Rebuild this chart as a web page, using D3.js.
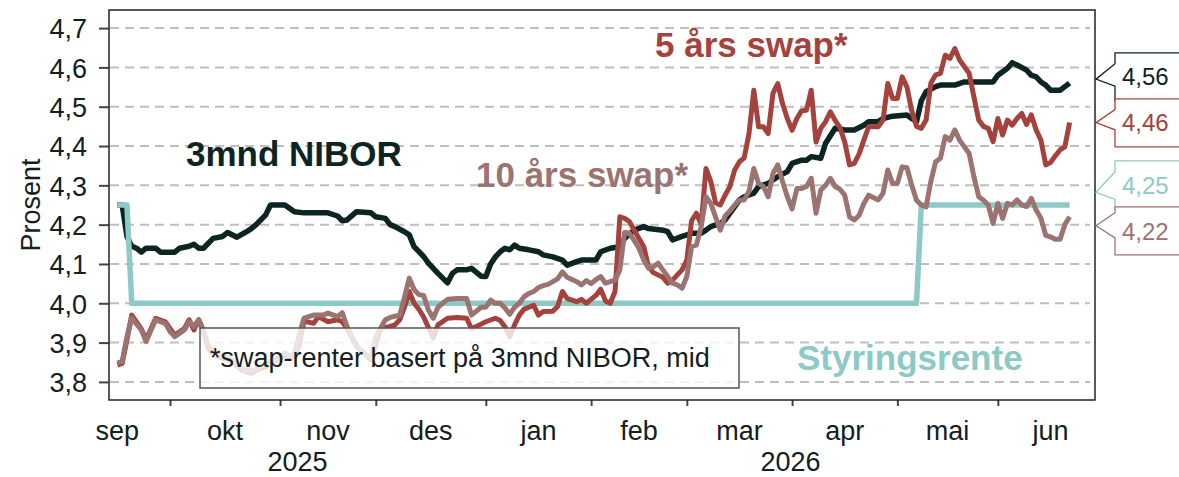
<!DOCTYPE html>
<html>
<head>
<meta charset="utf-8">
<script src="https://cdn.jsdelivr.net/npm/d3@7"></script>
<style>
body { margin: 0; background: #fff; }
svg { display: block; font-family: "Liberation Sans", Arial, sans-serif; }
</style>
</head>
<body>
<script>
// dag 0 = 16. sep 2025, bare ukedager telles (handelsdager)
var startDato = "2025-09-16";

var nibor = [[0,4.25],[1,4.25],[2,4.17],[3,4.145],[4,4.14],[5,4.13],[6,4.14],[8,4.14],[9,4.13],[12,4.13],[13,4.14],[15,4.145],[16,4.15],[17,4.14],[18,4.14],[20,4.165],[22,4.17],[23,4.18],[25,4.168],[27,4.182],[28,4.19],[29,4.2],[31,4.225],[32,4.25],[35,4.25],[37,4.233],[39,4.23],[44,4.23],[46,4.222],[47,4.21],[48,4.212],[50,4.233],[53,4.23],[54,4.22],[56,4.216],[57,4.2],[58,4.195],[60,4.182],[61,4.174],[62,4.144],[64,4.119],[65,4.102],[67,4.076],[68,4.064],[69,4.052],[70,4.076],[71,4.085],[73,4.085],[74,4.089],[76,4.069],[77,4.068],[78,4.1],[79,4.118],[80,4.131],[81,4.14],[82,4.136],[83,4.148],[84,4.14],[86,4.136],[88,4.131],[89,4.123],[91,4.118],[93,4.11],[94,4.097],[96,4.106],[97,4.11],[100,4.11],[101,4.131],[103,4.14],[105,4.144],[106,4.165],[108,4.186],[110,4.195],[111,4.19],[114,4.186],[115,4.182],[116,4.161],[118,4.17],[120,4.178],[122,4.178],[123,4.186],[124,4.195],[126,4.203],[127,4.212],[129,4.246],[130,4.263],[131,4.271],[133,4.28],[134,4.297],[136,4.305],[137,4.314],[138,4.322],[140,4.335],[141,4.356],[143,4.364],[144,4.364],[145,4.373],[147,4.369],[148,4.407],[150,4.445],[152,4.441],[154,4.441],[156,4.453],[157,4.462],[159,4.462],[160,4.47],[162,4.476],[165,4.479],[166,4.47],[167,4.462],[168,4.515],[169,4.538],[171,4.551],[172,4.555],[175,4.555],[177,4.563],[183,4.563],[184,4.58],[186,4.598],[187,4.612],[188,4.606],[190,4.593],[191,4.58],[192,4.576],[193,4.563],[194,4.555],[195,4.542],[197,4.542],[198,4.551],[199,4.56]];

var swap5 = [[0,3.843],[1,3.847],[2,3.907],[3,3.97],[5,3.935],[6,3.907],[8,3.962],[10,3.953],[11,3.936],[12,3.919],[14,3.936],[15,3.958],[16,3.932],[17,3.958],[18,3.928],[19,3.884],[21,3.864],[23,3.857],[24,3.85],[26,3.83],[28,3.822],[30,3.835],[31,3.839],[33,3.852],[35,3.869],[36,3.86],[37,3.864],[38,3.894],[39,3.955],[41,3.949],[42,3.966],[44,3.953],[46,3.958],[47,3.953],[48,3.936],[50,3.89],[53,3.856],[55,3.936],[57,3.941],[58,3.945],[59,3.958],[60,3.99],[61,4.03],[62,4.0],[63,3.985],[64,3.965],[66,3.912],[67,3.945],[69,3.962],[71,3.964],[73,3.962],[74,3.935],[76,3.947],[77,3.953],[79,3.962],[80,3.956],[81,3.94],[82,3.915],[83,3.945],[84,3.97],[85,3.985],[87,3.995],[88,3.97],[89,3.979],[91,3.98],[92,3.992],[93,4.03],[94,4.012],[96,4.004],[97,4.01],[98,4.0],[100,4.02],[101,4.036],[102,4.006],[103,4.0],[104,4.03],[105,4.22],[106,4.216],[107,4.208],[108,4.186],[110,4.144],[111,4.093],[112,4.078],[114,4.066],[115,4.051],[116,4.059],[118,4.085],[119,4.11],[120,4.21],[121,4.229],[122,4.2],[123,4.343],[124,4.31],[125,4.256],[126,4.25],[127,4.275],[128,4.297],[129,4.339],[130,4.36],[131,4.37],[132,4.432],[133,4.542],[134,4.449],[135,4.449],[136,4.432],[137,4.534],[138,4.559],[139,4.508],[140,4.47],[141,4.44],[142,4.47],[143,4.49],[144,4.491],[145,4.542],[146,4.41],[147,4.445],[148,4.462],[149,4.487],[150,4.465],[151,4.447],[152,4.41],[153,4.352],[154,4.356],[155,4.38],[156,4.415],[157,4.449],[159,4.449],[160,4.466],[161,4.559],[162,4.521],[163,4.521],[164,4.576],[165,4.55],[166,4.49],[167,4.45],[168,4.445],[169,4.466],[170,4.56],[171,4.581],[172,4.585],[173,4.631],[174,4.623],[175,4.648],[176,4.619],[178,4.585],[179,4.525],[180,4.466],[181,4.45],[182,4.445],[183,4.411],[184,4.47],[185,4.428],[186,4.466],[187,4.453],[188,4.47],[189,4.483],[190,4.455],[191,4.479],[192,4.441],[193,4.415],[194,4.352],[195,4.358],[196,4.375],[197,4.39],[198,4.398],[199,4.46]];

var swap10 = [[0,3.848],[1,3.852],[2,3.915],[3,3.962],[5,3.932],[6,3.903],[8,3.958],[10,3.949],[11,3.928],[12,3.915],[14,3.932],[15,3.953],[16,3.941],[17,3.958],[18,3.932],[19,3.89],[21,3.87],[23,3.862],[24,3.855],[26,3.835],[28,3.827],[30,3.84],[31,3.845],[33,3.858],[35,3.874],[36,3.866],[37,3.87],[38,3.92],[39,3.962],[41,3.97],[43,3.97],[44,3.975],[46,3.966],[47,3.976],[48,3.941],[50,3.89],[53,3.86],[54,3.915],[56,3.958],[57,3.964],[59,3.97],[60,4.015],[61,4.064],[62,4.035],[63,4.022],[64,4.02],[65,3.983],[66,3.962],[67,3.99],[68,4.0],[69,4.01],[71,4.012],[73,4.012],[74,3.97],[76,3.99],[77,3.99],[78,4.008],[79,4.0],[80,4.0],[81,3.988],[82,3.972],[83,3.99],[84,4.0],[85,4.017],[86,4.025],[87,4.03],[88,4.04],[89,4.045],[90,4.048],[91,4.055],[92,4.062],[93,4.08],[94,4.066],[96,4.055],[97,4.047],[98,4.058],[99,4.05],[100,4.06],[101,4.068],[102,4.051],[104,4.059],[105,4.085],[106,4.18],[107,4.178],[108,4.16],[109,4.14],[110,4.11],[111,4.089],[112,4.093],[113,4.102],[114,4.085],[115,4.068],[116,4.051],[117,4.047],[118,4.038],[119,4.068],[120,4.144],[121,4.148],[122,4.195],[123,4.271],[124,4.254],[125,4.22],[126,4.186],[127,4.222],[128,4.235],[129,4.25],[130,4.263],[131,4.263],[132,4.285],[133,4.343],[134,4.305],[135,4.297],[136,4.271],[137,4.33],[138,4.352],[139,4.31],[140,4.271],[141,4.24],[142,4.292],[143,4.292],[144,4.297],[145,4.318],[146,4.229],[147,4.288],[148,4.3],[149,4.318],[150,4.297],[151,4.29],[152,4.275],[153,4.22],[154,4.212],[155,4.224],[156,4.254],[157,4.275],[159,4.263],[160,4.28],[161,4.339],[162,4.305],[163,4.305],[164,4.347],[165,4.345],[166,4.3],[167,4.262],[168,4.25],[169,4.245],[170,4.31],[171,4.36],[172,4.369],[173,4.424],[174,4.415],[175,4.441],[176,4.415],[178,4.381],[179,4.322],[180,4.271],[181,4.262],[182,4.25],[183,4.203],[184,4.254],[185,4.216],[186,4.254],[187,4.25],[188,4.263],[189,4.25],[190,4.246],[191,4.267],[192,4.237],[193,4.216],[194,4.173],[195,4.169],[196,4.163],[197,4.163],[198,4.2],[199,4.22]];

var styringsrente = [[0,4.25],[2,4.25],[3,4.0],[167,4.0],[168,4.25],[199,4.25]];

var yTicks = [3.8, 3.9, 4.0, 4.1, 4.2, 4.3, 4.4, 4.5, 4.6, 4.7];
var maaneder = ["sep", "okt", "nov", "des", "jan", "feb", "mar", "apr", "mai", "jun"];
var aar = ["2025", "2026"];

var farger = {nibor: "#0d2522", swap5: "#a6423e", swap10: "#9b7371", styr: "#8dc9c7"};

var w = 1179;
var h = 477;

var svg = d3.select("body")
    .append("svg")
    .attr("width", w)
    .attr("height", h);

var x = d3.scaleLinear().domain([-1.75, 204.3]).range([109, 1095]);
var y = d3.scaleLinear().domain([3.754, 4.746]).range([400, 10]);

// ukedager fra 1. sep 2025, for aa finne maanedsskiftene
var parse = d3.timeParse("%Y-%m-%d");
var ukedager = d3.timeDay.range(parse("2025-09-01"), parse("2026-07-10"))
    .filter(function(d) { return d.getDay() > 0 && d.getDay() < 6; });
var startPos = d3.bisectLeft(ukedager, parse(startDato));
function dagNr(d) {
    return d3.bisectLeft(ukedager, d) - startPos;
}
var maanedStart = d3.timeMonth.range(parse("2025-09-01"), parse("2026-07-02")).map(dagNr);

var komma = function(f) { return function(d) { return d3.format(f)(d).replace(".", ","); }; };

// rutenett
svg.selectAll("line.grid")
    .data(yTicks)
    .enter()
    .append("line")
    .attr("x1", 110)
    .attr("x2", 1090)
    .attr("y1", function(d) { return y(d); })
    .attr("y2", function(d) { return y(d); })
    .attr("stroke", "#bfbfbf")
    .attr("stroke-width", 2)
    .attr("stroke-dasharray", "9,6");

// y-akse
var yAkse = svg.append("g")
    .attr("transform", "translate(109,0)")
    .call(d3.axisLeft(y).tickValues(yTicks).tickFormat(komma(".1f")).tickSize(10).tickPadding(12));
yAkse.select(".domain").remove();
yAkse.selectAll("line").attr("stroke", "#444").attr("stroke-width", 2);
yAkse.selectAll("text")
    .attr("font-size", 27)
    .attr("font-family", "Liberation Sans, Arial, sans-serif")
    .attr("fill", "#13201e")
    .attr("dy", "0.36em");

// x-akse, streker ved maanedsskifte
var xAkse = svg.append("g")
    .attr("transform", "translate(0,400)")
    .call(d3.axisBottom(x).tickValues(maanedStart.slice(1, 10)).tickFormat("").tickSize(6));
xAkse.select(".domain").remove();
xAkse.selectAll("line").attr("stroke", "#444").attr("stroke-width", 2);

svg.selectAll("text.mnd")
    .data(maaneder)
    .enter()
    .append("text")
    .attr("x", function(d, i) { return x((maanedStart[i] + maanedStart[i + 1]) / 2); })
    .attr("y", 440)
    .attr("text-anchor", "middle")
    .attr("font-size", 27)
    .attr("fill", "#13201e")
    .text(function(d) { return d; });

var nyttaar = dagNr(parse("2026-01-01"));
var aarMidt = [(x.domain()[0] + nyttaar) / 2, (nyttaar + x.domain()[1]) / 2];
svg.selectAll("text.aar")
    .data(aar)
    .enter()
    .append("text")
    .attr("x", function(d, i) { return x(aarMidt[i]); })
    .attr("y", 471)
    .attr("text-anchor", "middle")
    .attr("font-size", 27)
    .attr("fill", "#13201e")
    .text(function(d) { return d; });

svg.append("text")
    .attr("transform", "translate(40,205) rotate(-90)")
    .attr("text-anchor", "middle")
    .attr("font-size", 27)
    .attr("fill", "#13201e")
    .text("Prosent");

// linjer
var linje = d3.line()
    .x(function(d) { return x(d[0]); })
    .y(function(d) { return y(d[1]); });

var serier = [
    {data: nibor, farge: farger.nibor, bredde: 5.5},
    {data: styringsrente, farge: farger.styr, bredde: 5.5},
    {data: swap5, farge: farger.swap5, bredde: 5},
    {data: swap10, farge: farger.swap10, bredde: 5}
];

svg.selectAll("path.serie")
    .data(serier)
    .enter()
    .append("path")
    .attr("d", function(d) { return linje(d.data); })
    .attr("fill", "none")
    .attr("stroke", function(d) { return d.farge; })
    .attr("stroke-width", function(d) { return d.bredde; })
    .attr("stroke-linejoin", "round");

// fotnote-boks
svg.append("rect")
    .attr("x", 200)
    .attr("y", 328)
    .attr("width", 539)
    .attr("height", 60)
    .attr("fill", "#fff")
    .attr("fill-opacity", 0.8)
    .attr("stroke", "#555")
    .attr("stroke-width", 1.5);
svg.append("text")
    .attr("x", 210)
    .attr("y", 367)
    .attr("font-size", 27)
    .attr("fill", "#13201e")
    .text("*swap-renter basert på 3mnd NIBOR, mid");

// ramme
svg.append("rect")
    .attr("x", 109)
    .attr("y", 10)
    .attr("width", 986)
    .attr("height", 390)
    .attr("fill", "none")
    .attr("stroke", "#222")
    .attr("stroke-width", 1.5);

// serienavn
var navn = [
    {t: "3mnd NIBOR", x: 186, y: 166, f: farger.nibor},
    {t: "5 års swap*", x: 655, y: 57, f: farger.swap5},
    {t: "10 års swap*", x: 476, y: 187, f: farger.swap10},
    {t: "Styringsrente", x: 797, y: 370, f: farger.styr}
];
svg.selectAll("text.navn")
    .data(navn)
    .enter()
    .append("text")
    .attr("x", function(d) { return d.x; })
    .attr("y", function(d) { return d.y; })
    .attr("font-size", 35)
    .attr("font-weight", "bold")
    .attr("fill", function(d) { return d.f; })
    .text(function(d) { return d.t; });

// siste verdi, merkelapper til hoyre
var siste = [
    {v: nibor[nibor.length - 1][1], f: farger.nibor},
    {v: swap5[swap5.length - 1][1], f: farger.swap5},
    {v: styringsrente[styringsrente.length - 1][1], f: farger.styr},
    {v: swap10[swap10.length - 1][1], f: farger.swap10}
];
siste.forEach(function(d) { d.yd = y(d.v); d.ty = d.yd; });
siste.sort(function(a, b) { return a.yd - b.yd; });
for (var k = 0; k < 20; k++) {
    for (var j = 1; j < siste.length; j++) {
        var gap = siste[j].ty - siste[j - 1].ty;
        if (gap < 46) {
            siste[j].ty += (46 - gap) / 2;
            siste[j - 1].ty -= (46 - gap) / 2;
        }
    }
}
siste.forEach(function(d) {
    d.ty -= 3;
    d.tip = d.ty + 0.37 * (d.yd - d.ty);
});

var merk = svg.selectAll("g.merk")
    .data(siste)
    .enter()
    .append("g");
merk.append("path")
    .attr("d", function(d) {
        var t = d.ty - 24, b = d.ty + 24;
        var n1 = Math.min(d.tip, d.ty) - 13, n2 = Math.max(d.tip, d.ty) + 7;
        return "M1190," + t + "L1115," + t + "L1115," + n1 + "L1096," + d.tip +
            "L1115," + n2 + "L1115," + b + "L1190," + b;
    })
    .attr("fill", "#fff")
    .attr("stroke", function(d) { return d.f; })
    .attr("stroke-width", 1.3);
merk.append("text")
    .attr("x", 1122)
    .attr("y", function(d) { return d.ty; })
    .attr("dy", "0.36em")
    .attr("font-size", 24)
    .attr("fill", function(d) { return d.f; })
    .text(function(d) { return komma(".2f")(d.v); });
</script>
</body>
</html>
